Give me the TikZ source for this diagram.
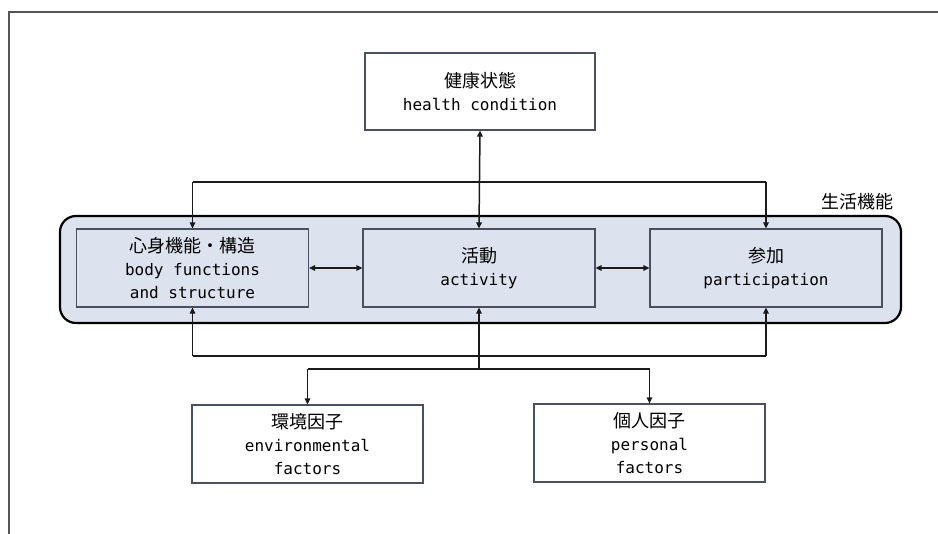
\documentclass[tikz,border=0pt]{standalone}
\usepackage{fontspec}
\usetikzlibrary{arrows.meta}
\newfontfamily\jpfont{Noto Sans CJK JP}
\newfontfamily\enfont{DejaVu Sans Mono}
\newcommand{\jp}[1]{{\jpfont\fontsize{18}{23}\selectfont #1}}
\definecolor{panelfill}{HTML}{DCE3EF}
\definecolor{boxline}{HTML}{4A5060}
\definecolor{frameline}{HTML}{555555}
\definecolor{wire}{HTML}{1A1A1A}
\tikzset{
  plainbox/.style={draw=boxline, line width=1.1pt, fill=white,
    minimum width=231pt, minimum height=77pt, inner sep=0pt,
    align=center, font=\enfont\fontsize{16}{23}\selectfont},
  innerbox/.style={plainbox, fill=panelfill, minimum height=78pt, minimum width=232pt},
  wireline/.style={draw=wire, line width=1.5pt},
  tip/.style={-{Triangle[length=6pt,width=5.5pt]}},
  bothtips/.style={{Triangle[length=6pt,width=5.5pt]}-{Triangle[length=6pt,width=5.5pt]}}
}
\begin{document}
\begin{tikzpicture}[x=1pt,y=-1pt]
  \useasboundingbox (0,0) rectangle (938,534);
  % outer frame (top and left edges)
  \draw[frameline, line width=2pt] (9,534) -- (9,12) -- (938,12);

  % group panel of the three functioning components
  \draw[black, line width=2.2pt, fill=panelfill, rounded corners=16pt]
    (60,216) rectangle (901,323);
  \node[font=\jpfont\fontsize{18}{22}\selectfont] (grp) at (857,202) {生活機能};

  % boxes
  \node[plainbox, minimum width=230pt] (health) at (480,91.5)
    {\jp{健康状態}\\health condition};
  \node[innerbox] (body) at (192.5,268)
    {\jp{心身機能・構造}\\body functions\\and structure};
  \node[innerbox] (act) at (479,268) {\jp{活動}\\activity};
  \node[innerbox] (part) at (766,268) {\jp{参加}\\participation};
  \node[plainbox, minimum height=78pt] (env) at (307.5,444)
    {\jp{環境因子}\\environmental\\factors};
  \node[plainbox, minimum height=78pt] (pers) at (649.5,443)
    {\jp{個人因子}\\personal\\factors};

  % junction points
  \coordinate (tl) at (body.north |- 0,182);
  \coordinate (tr) at (part.north |- 0,182);
  \coordinate (bl) at (body.south |- 0,356);
  \coordinate (br) at (part.south |- 0,356);
  \coordinate (bm) at (act.south |- 0,369);
  \coordinate (el) at (env.north |- 0,369);
  \coordinate (er) at (pers.north |- 0,369);

  % connectors
  \draw[wireline, bothtips] (health.south) -- (act.north);
  \draw[wireline] (tl) -- (tr);
  \draw[wireline, tip] (tl) -- (body.north);
  \draw[wireline, tip] (tr) -- (part.north);
  \draw[wireline, bothtips] (body.east) -- (act.west);
  \draw[wireline, bothtips] (act.east) -- (part.west);
  \draw[wireline] (bl) -- (br);
  \draw[wireline, tip] (bl) -- (body.south);
  \draw[wireline, tip] (br) -- (part.south);
  \draw[wireline, tip] (bm) -- (act.south);
  \draw[wireline] (el) -- (er);
  \draw[wireline, tip] (el) -- (env.north);
  \draw[wireline, tip] (er) -- (pers.north);
\end{tikzpicture}
\end{document}
